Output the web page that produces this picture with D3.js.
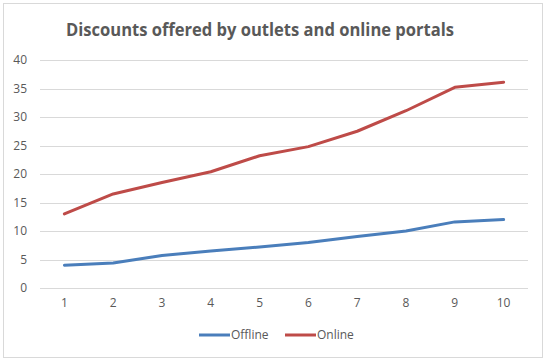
<!DOCTYPE html>
<html>
<head>
<meta charset="utf-8">
<script src="https://cdn.jsdelivr.net/npm/d3@7"></script>
<style>
  body { margin: 0; background: #fff; }
  text { font-family: "Open Sans", "Noto Sans", sans-serif; fill: #595959; }
</style>
</head>
<body>
<div id="chart"></div>
<script>
var categories = ["1", "2", "3", "4", "5", "6", "7", "8", "9", "10"];
var offline = [4, 4.4, 5.7, 6.5, 7.2, 8, 9.05, 10, 11.6, 12];
var online = [13, 16.5, 18.5, 20.4, 23.2, 24.8, 27.5, 31.1, 35.2, 36.1];
var yTicks = [0, 5, 10, 15, 20, 25, 30, 35, 40];
var seriesNames = ["Offline", "Online"];
var seriesColors = ["#4A7EBB", "#BE4B48"];

var width = 550, height = 363;

var svg = d3.select("#chart")
    .append("svg")
    .attr("width", width)
    .attr("height", height);

// chart frame
svg.append("rect")
    .attr("x", 3.5)
    .attr("y", 3.5)
    .attr("width", 539)
    .attr("height", 354)
    .attr("fill", "#fff")
    .attr("stroke", "#d9d9d9");

// title squeezed to the reference width (Calibri-ish narrow look)
svg.append("text")
    .attr("x", 66)
    .attr("y", 36)
    .attr("textLength", 388)
    .attr("lengthAdjust", "spacingAndGlyphs")
    .style("font-size", "18.5px")
    .style("font-weight", "bold")
    .text("Discounts offered by outlets and online portals");

var x = d3.scaleBand()
    .domain(categories)
    .range([40, 528]);

var y = d3.scaleLinear()
    .domain([0, 40])
    .range([288, 60]);

// gridlines
svg.append("g")
    .selectAll("line")
    .data(yTicks)
    .enter()
    .append("line")
    .attr("x1", 40)
    .attr("x2", 528)
    .attr("y1", function(d) { return Math.round(y(d)) + 0.5; })
    .attr("y2", function(d) { return Math.round(y(d)) + 0.5; })
    .attr("stroke", "#d9d9d9")
    .attr("stroke-width", 1);

var yAxis = svg.append("g")
    .attr("transform", "translate(27,0)")
    .call(d3.axisLeft(y).tickValues(yTicks).tickSize(0).tickPadding(0));
yAxis.select(".domain").remove();
yAxis.selectAll("text").style("font-size", "12px").style("fill", "#595959");

var xAxis = svg.append("g")
    .attr("transform", "translate(0,298)")
    .call(d3.axisBottom(x).tickSize(0).tickPadding(0));
xAxis.select(".domain").remove();
xAxis.selectAll("text").style("font-size", "12px").style("fill", "#595959");

var line = d3.line()
    .x(function(d, i) { return x(categories[i]) + x.bandwidth() / 2; })
    .y(function(d) { return y(d); });

[offline, online].forEach(function(vals, k) {
    svg.append("path")
        .datum(vals)
        .attr("d", line)
        .attr("fill", "none")
        .attr("stroke", seriesColors[k])
        .attr("stroke-width", 3)
        .attr("stroke-linejoin", "round")
        .attr("stroke-linecap", "round");
});

// legend
var legendX = [199, 285];
seriesNames.forEach(function(name, k) {
    svg.append("line")
        .attr("x1", legendX[k])
        .attr("x2", legendX[k] + 31)
        .attr("y1", 335)
        .attr("y2", 335)
        .attr("stroke", seriesColors[k])
        .attr("stroke-width", 3);
    svg.append("text")
        .attr("x", legendX[k] + 32)
        .attr("y", 339)
        .style("font-size", "12px")
        .text(name);
});
</script>
</body>
</html>
